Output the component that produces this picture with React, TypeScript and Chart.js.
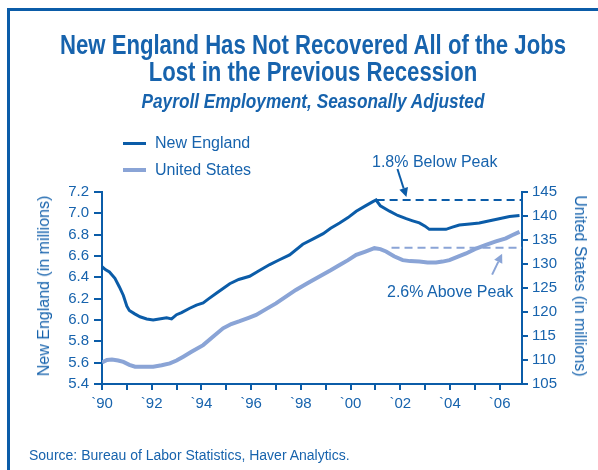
import React, { useEffect, useRef } from "react";
import { Chart, registerables } from "chart.js";

Chart.register(...registerables);

// ---- data (decimal years) ----
const neYears = [1990.0, 1990.15, 1990.3, 1990.52, 1990.7, 1990.86, 1991.0, 1991.1, 1991.3, 1991.53, 1991.8, 1992.06, 1992.3, 1992.6, 1992.8, 1993.0, 1993.2, 1993.53, 1993.8, 1994.07, 1994.3, 1994.6, 1994.9, 1995.14, 1995.5, 1995.94, 1996.3, 1996.75, 1997.1, 1997.55, 1998.08, 1998.5, 1998.9, 1999.2, 1999.56, 1999.9, 2000.23, 2000.6, 2000.9, 2001.03, 2001.2, 2001.57, 2001.9, 2002.24, 2002.5, 2002.77, 2003.0, 2003.17, 2003.5, 2003.84, 2004.1, 2004.38, 2004.8, 2005.18, 2005.6, 2005.98, 2006.4, 2006.8];
const neValues = [6.5, 6.47, 6.45, 6.39, 6.31, 6.23, 6.13, 6.09, 6.06, 6.03, 6.01, 6.0, 6.01, 6.02, 6.01, 6.05, 6.07, 6.11, 6.14, 6.16, 6.2, 6.25, 6.3, 6.34, 6.38, 6.41, 6.46, 6.52, 6.56, 6.61, 6.71, 6.76, 6.81, 6.86, 6.91, 6.96, 7.02, 7.07, 7.11, 7.125, 7.07, 7.02, 6.98, 6.95, 6.93, 6.91, 6.88, 6.85, 6.85, 6.85, 6.87, 6.89, 6.9, 6.91, 6.93, 6.95, 6.97, 6.98];

const usYears = [1990.0, 1990.2, 1990.4, 1990.65, 1990.86, 1991.1, 1991.33, 1991.7, 1992.06, 1992.4, 1992.73, 1993.0, 1993.27, 1993.6, 1994.07, 1994.5, 1994.87, 1995.2, 1995.54, 1995.9, 1996.2, 1996.6, 1997.0, 1997.4, 1997.8, 1998.3, 1998.75, 1999.2, 1999.56, 1999.9, 2000.23, 2000.6, 2000.96, 2001.2, 2001.43, 2001.75, 2002.1, 2002.4, 2002.77, 2003.1, 2003.44, 2003.7, 2003.98, 2004.3, 2004.65, 2005.0, 2005.45, 2005.85, 2006.25, 2006.5, 2006.8];
const usValues = [109.5, 110.0, 110.1, 109.9, 109.6, 109.0, 108.6, 108.6, 108.6, 108.9, 109.3, 109.9, 110.7, 111.7, 113.1, 115.0, 116.6, 117.5, 118.1, 118.8, 119.4, 120.6, 121.8, 123.2, 124.6, 126.1, 127.4, 128.7, 129.8, 130.8, 131.9, 132.6, 133.3, 133.1, 132.6, 131.6, 130.8, 130.6, 130.5, 130.3, 130.3, 130.5, 130.8, 131.5, 132.2, 133.1, 134.0, 134.7, 135.35, 136.0, 136.7];

const NE_PEAK = 7.125;
const US_PEAK = 133.4;
const nePeakSpan = [2001.05, 2006.9];
const usPeakSpan = [2001.65, 2006.9];

const X_MIN = 1990;
const X_MAX = 2006.9;
const leftRange = [5.4, 7.2];
const rightRange = [105, 145];

const DARK = "#0b5ca8";
const LIGHT = "#8aa4d6";
const TEXT = "#1763ad";
const BODY_FONT = "'Liberation Sans', Arial, sans-serif";

const arrowPlugin = {
  id: "peakArrows",
  afterDatasetsDraw(chart: any) {
    const { ctx, scales } = chart;
    const x = scales.x;
    const yL = scales.yL;
    const yR = scales.yR;
    const drawArrow = (tx: number, ty: number, fx: number, fy: number, color: string) => {
      const ang = Math.atan2(ty - fy, tx - fx);
      const head = 9;
      const bx = tx - Math.cos(ang) * head;
      const by = ty - Math.sin(ang) * head;
      ctx.save();
      ctx.strokeStyle = color;
      ctx.fillStyle = color;
      ctx.lineWidth = 2;
      ctx.beginPath();
      ctx.moveTo(fx, fy);
      ctx.lineTo(bx, by);
      ctx.stroke();
      ctx.beginPath();
      ctx.moveTo(tx, ty);
      ctx.lineTo(bx + Math.cos(ang + Math.PI / 2) * 4.5, by + Math.sin(ang + Math.PI / 2) * 4.5);
      ctx.lineTo(bx - Math.cos(ang + Math.PI / 2) * 4.5, by - Math.sin(ang + Math.PI / 2) * 4.5);
      ctx.closePath();
      ctx.fill();
      ctx.restore();
    };
    const t1x = x.getPixelForValue(2002.25);
    const t1y = yL.getPixelForValue(NE_PEAK) - 3;
    drawArrow(t1x, t1y, t1x - 9, t1y - 28, DARK);
    const t2x = x.getPixelForValue(2006.1);
    const t2y = yR.getPixelForValue(US_PEAK) + 6;
    drawArrow(t2x, t2y, t2x - 10, t2y + 21, LIGHT);
  },
};

export default function App() {
  const ref = useRef<HTMLCanvasElement | null>(null);

  useEffect(() => {
    if (!ref.current) return;
    const tickFont = { family: BODY_FONT, size: 15 };
    const chart = new Chart(ref.current, {
      type: "line",
      data: {
        datasets: [
          {
            label: "New England",
            data: neYears.map((yr, i) => ({ x: yr, y: neValues[i] })),
            borderColor: DARK,
            borderWidth: 3,
            pointRadius: 0,
            yAxisID: "yL",
            tension: 0,
          },
          {
            label: "United States",
            data: usYears.map((yr, i) => ({ x: yr, y: usValues[i] })),
            borderColor: LIGHT,
            borderWidth: 4,
            pointRadius: 0,
            yAxisID: "yR",
            tension: 0,
          },
          {
            label: "NE peak",
            data: nePeakSpan.map((yr) => ({ x: yr, y: NE_PEAK })),
            borderColor: DARK,
            borderWidth: 2,
            borderDash: [8, 5],
            pointRadius: 0,
            yAxisID: "yL",
          },
          {
            label: "US peak",
            data: usPeakSpan.map((yr) => ({ x: yr, y: US_PEAK })),
            borderColor: LIGHT,
            borderWidth: 2,
            borderDash: [8, 5],
            pointRadius: 0,
            yAxisID: "yR",
          },
        ],
      },
      options: {
        animation: false,
        responsive: false,
        devicePixelRatio: 1,
        layout: { padding: { top: 192, left: 30, right: 0, bottom: 56 } },
        plugins: { legend: { display: false }, tooltip: { enabled: false } },
        scales: {
          x: {
            type: "linear",
            min: X_MIN,
            max: X_MAX,
            afterFit: (s: any) => { s.height = 30; },
            grid: { drawOnChartArea: false, tickLength: 6, color: DARK, lineWidth: 2 },
            border: { color: DARK, width: 2 },
            ticks: {
              stepSize: 1,
              includeBounds: false,
              autoSkip: false,
              maxRotation: 0,
              color: TEXT,
              font: tickFont,
              padding: 5,
              callback: (v: any) => {
                const n = Number(v);
                if (Math.abs(n - Math.round(n)) > 1e-6) return "";
                const r = Math.round(n);
                return r % 2 === 0 ? "`" + String(r).slice(2) : "";
              },
            },
          },
          yL: {
            type: "linear",
            position: "left",
            min: leftRange[0],
            max: leftRange[1],
            afterFit: (s: any) => { s.width = 72; },
            grid: { drawOnChartArea: false, tickLength: 8, color: DARK, lineWidth: 2 },
            border: { color: DARK, width: 2 },
            ticks: { stepSize: 0.2, color: TEXT, font: tickFont, padding: 5, callback: (v: any) => Number(v).toFixed(1) },
          },
          yR: {
            type: "linear",
            position: "right",
            min: rightRange[0],
            max: rightRange[1],
            afterFit: (s: any) => { s.width = 76; },
            grid: { drawOnChartArea: false, tickLength: 6, color: DARK, lineWidth: 2 },
            border: { color: DARK, width: 2 },
            ticks: { stepSize: 5, color: TEXT, font: tickFont, padding: 4 },
          },
        },
      },
      plugins: [arrowPlugin],
    });
    return () => chart.destroy();
  }, []);

  const abs = (s: React.CSSProperties): React.CSSProperties => ({ position: "absolute", whiteSpace: "nowrap", color: TEXT, ...s });
  const narrowLine = (text: string, top: number, size: number, italic: boolean) => (
    <div style={abs({ left: 313, top, transform: "translateX(-50%) scaleX(0.82)", fontFamily: BODY_FONT, fontWeight: 700, fontStyle: italic ? "italic" : "normal", fontSize: size, lineHeight: `${size + 2}px` })}>
      {text}
    </div>
  );

  return (
    <div style={{ position: "absolute", left: 0, top: 0, width: 598, height: 470, overflow: "hidden", background: "#fff" }}>
      <div style={{ position: "absolute", left: 7, top: 8, width: 700, height: 600, borderTop: `3px solid ${DARK}`, borderLeft: `3px solid ${DARK}` }} />
      <canvas ref={ref} width={598} height={470} style={{ position: "absolute", left: 0, top: 0 }} />
      {narrowLine("New England Has Not Recovered All of the Jobs", 31, 27, false)}
      {narrowLine("Lost in the Previous Recession", 58, 27, false)}
      {narrowLine("Payroll Employment, Seasonally Adjusted", 89, 21, true)}
      <div style={{ position: "absolute", left: 123, top: 142, width: 23, height: 3, background: DARK }} />
      <div style={{ position: "absolute", left: 123, top: 168, width: 23, height: 4, background: LIGHT }} />
      <div style={abs({ left: 155, top: 133, fontFamily: BODY_FONT, fontSize: 16, lineHeight: "20px" })}>New England</div>
      <div style={abs({ left: 155, top: 160, fontFamily: BODY_FONT, fontSize: 16, lineHeight: "20px" })}>United States</div>
      <div style={abs({ left: 372, top: 152, fontFamily: BODY_FONT, fontSize: 16, lineHeight: "20px" })}>1.8% Below Peak</div>
      <div style={abs({ left: 387, top: 282, fontFamily: BODY_FONT, fontSize: 16, lineHeight: "20px" })}>2.6% Above Peak</div>
      <div style={abs({ left: 44, top: 286, fontFamily: BODY_FONT, fontSize: 16, lineHeight: "20px", transform: "translate(-50%, -50%) rotate(-90deg)" })}>New England (in millions)</div>
      <div style={abs({ left: 580, top: 286, fontFamily: BODY_FONT, fontSize: 16, lineHeight: "20px", transform: "translate(-50%, -50%) rotate(90deg)" })}>United States (in millions)</div>
      <div style={abs({ left: 29, top: 446, fontFamily: BODY_FONT, fontSize: 14, lineHeight: "18px" })}>Source: Bureau of Labor Statistics, Haver Analytics.</div>
    </div>
  );
}
